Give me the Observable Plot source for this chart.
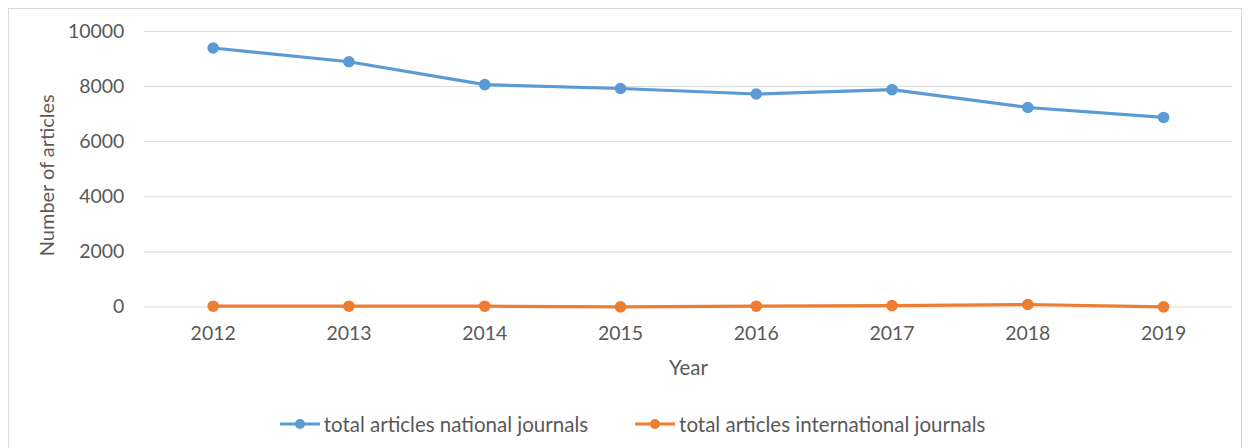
<!DOCTYPE html>
<html>
<head>
<meta charset="utf-8">
<script src="https://cdn.jsdelivr.net/npm/d3@7"></script>
<script src="https://cdn.jsdelivr.net/npm/@observablehq/plot@0.6"></script>
<style>
  html, body { margin: 0; padding: 0; background: #fff; }
  body { width: 1252px; height: 448px; overflow: hidden; position: relative; font-family: Lato, "Open Sans", sans-serif; }
  #box { position: absolute; left: 8px; top: 8px; width: 1234px; height: 460px; border: 1px solid #d9d9d9; box-sizing: border-box; }
  #chart svg { display: block; }
  #legend { display: flex; justify-content: center; gap: 46px; margin-top: 27px; font-size: 20.5px; color: #595959; padding-left: 14px; }
  .item { display: flex; align-items: center; gap: 3px; }
</style>
</head>
<body>
<div id="box">
  <div id="chart"></div>
  <div id="legend"></div>
</div>
<script>
const years = ["2012", "2013", "2014", "2015", "2016", "2017", "2018", "2019"];
const national = [9400, 8900, 8070, 7930, 7730, 7890, 7240, 6880];
const international = [30, 30, 30, 5, 30, 50, 90, 5];
const seriesNames = ["total articles national journals", "total articles international journals"];
const seriesColors = ["#5b9bd5", "#ed7d31"];
const yTicks = [0, 2000, 4000, 6000, 8000, 10000];

const rows = [
  ...years.map((year, i) => ({year, value: national[i], series: seriesNames[0]})),
  ...years.map((year, i) => ({year, value: international[i], series: seriesNames[1]}))
];

const textColor = "#595959";

const chart = Plot.plot({
  width: 1234,
  height: 377,
  marginLeft: 135,
  marginRight: 9,
  marginTop: 22,
  marginBottom: 79,
  style: {fontFamily: "Lato, 'Open Sans', sans-serif", fontSize: "19.5px", color: textColor, background: "transparent"},
  x: {type: "point", domain: years, padding: 0.5, label: null},
  y: {domain: [0, 10000], label: null},
  color: {domain: seriesNames, range: seriesColors},
  marks: [
    Plot.gridY(yTicks, {stroke: "#d9d9d9", strokeOpacity: 1, strokeWidth: 1}),
    Plot.axisY(yTicks, {tickSize: 0, tickPadding: 20, fontSize: 19.5, tickFormat: d => String(d), label: null}),
    Plot.axisX({tickSize: 0, tickPadding: 19, fontSize: 19.5, label: null}),
    Plot.text(["Year"], {frameAnchor: "bottom", dy: 68, fontSize: 20.5, fill: textColor}),
    Plot.text(["Number of articles"], {frameAnchor: "left", textAnchor: "middle", dx: -97, dy: 6, rotate: -90, fontSize: 20, fill: textColor}),
    Plot.line(rows, {x: "year", y: "value", z: "series", stroke: "series", strokeWidth: 3.2}),
    Plot.dot(rows, {x: "year", y: "value", fill: "series", r: 5.8})
  ]
});
document.getElementById("chart").append(chart);

// Legend: a short line with a dot for each series, then its name
const legend = d3.select("#legend");
seriesNames.forEach((name, i) => {
  const item = legend.append("div").attr("class", "item");
  const sw = item.append("svg").attr("width", 42).attr("height", 12);
  sw.append("line").attr("x1", 1).attr("x2", 41).attr("y1", 6).attr("y2", 6)
    .attr("stroke", seriesColors[i]).attr("stroke-width", 3.2);
  sw.append("circle").attr("cx", 21).attr("cy", 6).attr("r", 5).attr("fill", seriesColors[i]);
  item.append("span").text(name);
});
</script>
</body>
</html>
